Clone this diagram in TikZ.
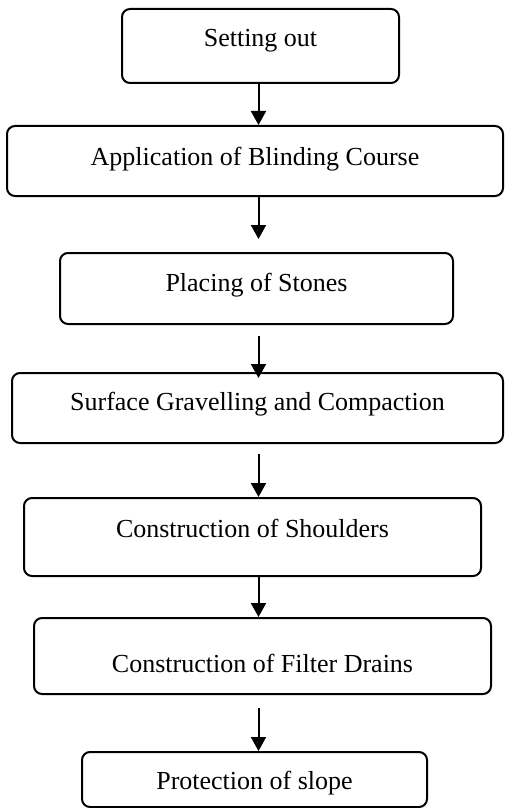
\documentclass[tikz,border=0pt]{standalone}
\usepackage{fontspec}
\setmainfont{Liberation Serif}
\usetikzlibrary{arrows.meta}

\begin{document}
\begin{tikzpicture}[x=0.5pt, y=-0.5pt,
    stage/.style={draw, line width=1pt, rounded corners=4pt, inner sep=0pt, text depth=0pt,
        font=\fontsize{13}{15}\selectfont},
    flow/.style={line width=1pt, -{Triangle[length=7pt,width=7.5pt]}}]
    \useasboundingbox (0,0) rectangle (504,808);

    % Stages
    \node[stage, minimum width=138.5pt, minimum height=37pt, text height=0.7pt] (setout) at (260.5,46) {Setting out};
    \node[stage, minimum width=248pt, minimum height=35pt, text height=4pt] (blinding) at (255,161) {Application of Blinding Course};
    \node[stage, minimum width=196.5pt, minimum height=35.5pt, text height=2.5pt] (stones) at (256.5,288.5) {Placing of Stones};
    \node[stage, minimum width=245.5pt, minimum height=35pt, text height=2pt] (gravel) at (257.5,408) {Surface Gravelling and Compaction};
    \node[stage, minimum width=228.5pt, minimum height=39pt, text height=0pt] (shoulders) at (252.5,537) {Construction of Shoulders};
    \node[stage, minimum width=228.5pt, minimum height=38pt, text height=16pt] (drains) at (262.5,656) {Construction of Filter Drains};
    \node[stage, minimum width=172.5pt, minimum height=27.5pt, text height=9.5pt] (slope) at (254.5,779.5) {Protection of slope};

    % Arrows
    \coordinate (ax) at (258.5,0);
    \draw[flow] (setout.south -| ax) -- (blinding.north -| ax);
    \draw[flow, shorten >=6.5pt] (blinding.south -| ax) -- (stones.north -| ax);
    \draw[flow, shorten <=5.5pt, shorten >=-3pt] (stones.south -| ax) -- (gravel.north -| ax);
    \draw[flow, shorten <=5pt] (gravel.south -| ax) -- (shoulders.north -| ax);
    \draw[flow] (shoulders.south -| ax) -- (drains.north -| ax);
    \draw[flow, shorten <=6.5pt] (drains.south -| ax) -- (slope.north -| ax);
\end{tikzpicture}
\end{document}
